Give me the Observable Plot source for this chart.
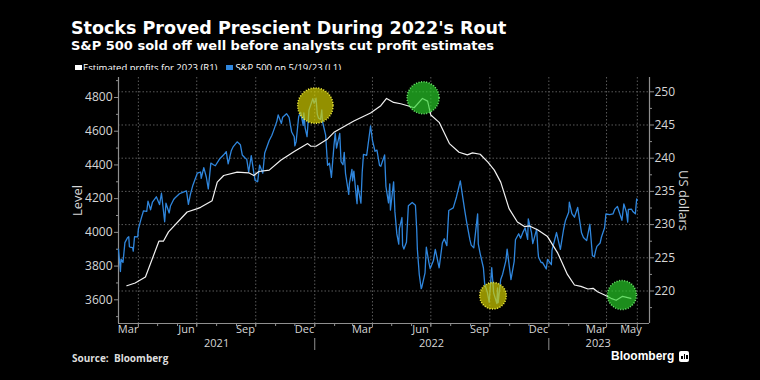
<!DOCTYPE html>
<html>
<head>
<meta charset="utf-8">
<script src="https://cdn.jsdelivr.net/npm/d3@7"></script>
<script src="https://cdn.jsdelivr.net/npm/@observablehq/plot@0.6"></script>
<style>
html,body{margin:0;padding:0;background:#000;}
#root{position:relative;width:760px;height:380px;background:#000;overflow:hidden;color:#fff;}
.title{position:absolute;left:71px;top:20px;font-family:"DejaVu Sans";font-weight:bold;font-size:17.5px;line-height:1;color:#fff;white-space:nowrap;}
.subtitle{position:absolute;left:71px;top:39px;font-family:"DejaVu Sans";font-weight:bold;font-size:13px;line-height:1;color:#fff;white-space:nowrap;}
.legend{position:absolute;left:75px;top:63px;height:10px;font-family:"Open Sans";font-size:9.5px;line-height:1;color:#fff;white-space:nowrap;display:flex;align-items:center;}
.sw{display:inline-block;width:7px;height:7px;margin-right:1px;}
#chart{position:absolute;left:0;top:70px;}
.source{position:absolute;left:72px;top:353px;font-family:"Open Sans";font-weight:bold;font-size:10px;line-height:1;color:#ddd;white-space:nowrap;}
.logo{position:absolute;left:611px;top:350px;font-family:"Liberation Sans";font-weight:bold;font-size:12px;line-height:1;color:#fff;display:flex;align-items:center;white-space:nowrap;}
.icon{display:inline-block;width:10px;height:11px;background:#fff;border-radius:2px;margin-left:5px;position:relative;}
.icon i{position:absolute;bottom:3px;width:1.5px;background:#000;}
</style>
</head>
<body>
<div id="root">
  <div class="title">Stocks Proved Prescient During 2022's Rout</div>
  <div class="subtitle">S&amp;P 500 sold off well before analysts cut profit estimates</div>
  <div class="legend"><span class="sw" style="background:#fff"></span>Estimated profits for 2023 (R1)<span class="sw" style="background:#2f86dd;margin-left:9px;margin-right:2px"></span>S&amp;P 500 on 5/19/23 (L1)</div>
  <div id="chart"></div>
  <div class="source">Source:&nbsp; Bloomberg</div>
  <div class="logo">Bloomberg<span class="icon"><i style="left:2px;height:3px"></i><i style="left:4.5px;height:5px"></i><i style="left:7px;height:4px"></i></span></div>
</div>
<script>
// ---------- DATA ----------
const spxDates = [
"2021-03-01","2021-03-04","2021-03-05","2021-03-08","2021-03-11","2021-03-15","2021-03-17","2021-03-18","2021-03-19","2021-03-23","2021-03-24","2021-03-26","2021-03-31",
"2021-04-01","2021-04-05","2021-04-09","2021-04-14","2021-04-16","2021-04-20","2021-04-23","2021-04-29",
"2021-05-04","2021-05-07","2021-05-12","2021-05-14","2021-05-19","2021-05-21","2021-05-26","2021-05-28",
"2021-06-04","2021-06-10","2021-06-15","2021-06-18","2021-06-21","2021-06-25",
"2021-07-02","2021-07-07","2021-07-08","2021-07-12","2021-07-16","2021-07-19","2021-07-23","2021-07-27","2021-07-30",
"2021-08-06","2021-08-12","2021-08-16","2021-08-19","2021-08-24","2021-08-27",
"2021-09-02","2021-09-07","2021-09-10","2021-09-14","2021-09-17","2021-09-20","2021-09-24","2021-09-28","2021-09-30",
"2021-10-04","2021-10-07","2021-10-12","2021-10-15","2021-10-22","2021-10-26","2021-10-29",
"2021-11-03","2021-11-05","2021-11-10","2021-11-12","2021-11-18","2021-11-22","2021-11-26","2021-11-30",
"2021-12-01","2021-12-03","2021-12-07","2021-12-10","2021-12-14","2021-12-15","2021-12-17","2021-12-20","2021-12-23","2021-12-29","2021-12-31",
"2022-01-03","2022-01-05","2022-01-07","2022-01-10","2022-01-12","2022-01-13","2022-01-18","2022-01-21","2022-01-24","2022-01-27","2022-01-31",
"2022-02-02","2022-02-04","2022-02-09","2022-02-11","2022-02-14","2022-02-16","2022-02-18","2022-02-23","2022-02-24","2022-02-28",
"2022-03-01","2022-03-03","2022-03-07","2022-03-08","2022-03-09","2022-03-14","2022-03-16","2022-03-18","2022-03-23","2022-03-29",
"2022-04-01","2022-04-05","2022-04-08","2022-04-12","2022-04-14","2022-04-20","2022-04-22","2022-04-26","2022-04-28","2022-04-29",
"2022-05-04","2022-05-06","2022-05-09","2022-05-12","2022-05-13","2022-05-17","2022-05-18","2022-05-20","2022-05-24","2022-05-27",
"2022-06-02","2022-06-07","2022-06-09","2022-06-10","2022-06-13","2022-06-16","2022-06-17","2022-06-22","2022-06-24","2022-06-28","2022-06-30",
"2022-07-05","2022-07-08","2022-07-14","2022-07-19","2022-07-22","2022-07-26","2022-07-29",
"2022-08-05","2022-08-10","2022-08-16","2022-08-19","2022-08-23","2022-08-26","2022-08-31",
"2022-09-02","2022-09-06","2022-09-12","2022-09-13","2022-09-16","2022-09-21","2022-09-23","2022-09-27","2022-09-30",
"2022-10-04","2022-10-07","2022-10-12","2022-10-13","2022-10-14","2022-10-18","2022-10-21","2022-10-26","2022-10-28",
"2022-11-03","2022-11-08","2022-11-10","2022-11-15","2022-11-18","2022-11-22","2022-11-25","2022-11-29","2022-11-30",
"2022-12-05","2022-12-07","2022-12-13","2022-12-15","2022-12-16","2022-12-20","2022-12-22","2022-12-28","2022-12-30",
"2023-01-05","2023-01-06","2023-01-12","2023-01-13","2023-01-19","2023-01-24","2023-01-27",
"2023-02-01","2023-02-02","2023-02-06","2023-02-10","2023-02-15","2023-02-21","2023-02-24",
"2023-03-01","2023-03-06","2023-03-10","2023-03-13","2023-03-15","2023-03-17","2023-03-22","2023-03-24","2023-03-29","2023-03-31",
"2023-04-06","2023-04-11","2023-04-14","2023-04-18","2023-04-20","2023-04-25","2023-04-28",
"2023-05-02","2023-05-04","2023-05-05","2023-05-10","2023-05-12","2023-05-16","2023-05-17","2023-05-18","2023-05-19"
];
const spxValues = [
3901,3768,3841,3821,3939,3968,3974,3915,3913,3910,3889,3974,3973,
4019,4077,4128,4124,4185,4134,4180,4211,
4165,4232,4063,4173,4115,4156,4195,4204,
4229,4239,4246,4166,4224,4280,
4352,4358,4320,4384,4327,4258,4411,4401,4395,
4437,4460,4479,4406,4486,4509,
4537,4520,4459,4443,4433,4358,4455,4353,4308,
4300,4399,4351,4471,4545,4575,4605,
4660,4697,4646,4683,4704,4682,4595,4567,
4513,4538,4687,4712,4634,4709,4620,4568,4725,4793,4766,
4796,4700,4677,4670,4726,4659,4577,4398,4410,4326,4516,
4589,4500,4587,4419,4401,4475,4349,4225,4288,4374,
4306,4363,4201,4170,4278,4173,4357,4463,4457,4631,
4546,4481,4488,4397,4392,4459,4272,4175,4288,4132,
4300,4123,3991,3930,4024,4088,3923,3901,3941,4158,
4177,4161,4018,3901,3750,3666,3675,3760,3912,3821,3785,
3831,3899,3790,3937,3962,3921,4130,
4145,4210,4305,4228,4128,4058,3955,
3924,3908,4110,3932,3873,3790,3693,3647,3586,
3791,3640,3577,3670,3583,3720,3752,3831,3901,
3720,3828,3956,3992,3965,4003,4026,3958,4080,
3998,3933,4019,3895,3852,3821,3822,3783,3840,
3808,3895,3983,3999,3899,4017,4071,
4119,4179,4111,4090,4148,3997,3970,
3951,4048,3862,3855,3892,3917,3937,3971,4027,4109,
4105,4109,4138,4154,4130,4071,4169,
4119,4061,4136,4137,4124,4110,4158,4198,4191
];
const epsDates = [
"2021-03-14","2021-03-27","2021-04-12","2021-05-03","2021-05-10","2021-05-18","2021-06-16","2021-07-02","2021-07-07","2021-07-25",
"2021-08-02","2021-08-12","2021-09-02","2021-09-20","2021-09-28","2021-10-06","2021-10-22","2021-11-09","2021-11-30","2021-12-21",
"2021-12-26","2022-01-03","2022-01-21","2022-01-31","2022-03-03","2022-03-29","2022-04-14","2022-04-23","2022-05-04","2022-05-15",
"2022-05-26","2022-06-05","2022-06-18","2022-06-26","2022-07-01","2022-07-14","2022-07-30","2022-08-14","2022-08-27","2022-09-04",
"2022-09-16","2022-09-28","2022-10-08","2022-10-18","2022-10-31","2022-11-13","2022-11-24","2022-12-02","2022-12-15","2022-12-30",
"2023-01-15","2023-01-30","2023-02-10","2023-02-20","2023-03-03","2023-03-11","2023-03-18","2023-03-29","2023-04-08","2023-04-16",
"2023-04-26","2023-05-09"
];
const epsValues = [
220.8,221.2,222.1,227.5,227.5,228.9,231.9,232.4,232.6,233.6,
236.4,237.4,237.9,237.8,237.4,238.0,238.2,239.7,241.0,242.2,
241.8,241.8,242.9,243.9,245.6,246.8,247.9,249.0,248.4,248.2,
247.9,247.6,249.0,248.6,246.5,245.4,242.2,240.9,240.5,240.8,
240.6,239.4,238.2,236.4,232.4,230.4,229.7,229.8,229.2,228.2,
225.7,222.5,220.9,220.7,220.3,220.4,219.9,219.4,218.9,218.6,
219.2,218.9
];
// highlighted spots (L = S&P 500 axis, R = profits axis)
const hlDates  = ["2022-01-02","2022-06-19","2022-10-06","2023-04-25"];
const hlValues = [4752, 249.1, 3624, 219.4];
const hlAxis   = ["L","R","L","R"];

const leftMajor  = [3600,3800,4000,4200,4400,4600,4800];
const leftMinor  = [3500,3700,3900,4100,4300,4500,4700,4900];
const rightMajor = [220,225,230,235,240,245,250];
const rightMinor = [217.5,222.5,227.5,232.5,237.5,242.5,247.5];
const monthLabelDates = ["2021-03-16","2021-06-15","2021-09-15","2021-12-16","2022-03-16","2022-06-15","2022-09-15","2022-12-16","2023-03-16","2023-05-09"];
const gridDates = ["2021-04-01","2021-07-01","2021-10-01","2022-01-01","2022-04-01","2022-07-01","2022-10-01","2023-01-01","2023-04-01","2023-05-19"];
const yearLabelDates = ["2021-08-01","2022-07-02","2023-03-19"];
const yearBreakDates = ["2022-01-01","2023-01-01"];
const xDomain = ["2021-03-01","2023-06-07"];
const yDomain = [3459.4, 4918.6];

// ---------- SCALE LINK (right axis -> left axis units) ----------
const R2L = v => 4833.8 - (250 - v) * 39.39;
const L2R = l => 250 - (4833.8 - l) / 39.39;

const P = d3.utcParse("%Y-%m-%d");
const spx = spxDates.map((d, i) => ({date: P(d), value: spxValues[i]}));
const eps = epsDates.map((d, i) => ({date: P(d), value: R2L(epsValues[i])}));
const hl = hlDates.map((d, i) => ({date: P(d), axis: hlAxis[i], value: hlAxis[i] === "L" ? hlValues[i] : R2L(hlValues[i])}));
const hlRadius = [17.7, 16, 13.3, 14.5];
hl.forEach((d, i) => d.r = hlRadius[i]);

const monthStarts = d3.utcMonth.range(P("2021-04-01"), P("2023-06-01"));

const axisGray = "#8f8f8f";
const textGray = "#d6d6d6";
const gridStyle = {stroke: "#5a5a5a", strokeOpacity: 1, strokeDasharray: "1.5,2", strokeWidth: 1};

const chart = Plot.plot({
  width: 760,
  height: 285,
  marginLeft: 118,
  marginRight: 111,
  marginTop: 7,
  marginBottom: 32,
  style: {background: "#000", color: textGray, fontFamily: "Open Sans", fontSize: "12px"},
  x: {type: "utc", domain: xDomain.map(P), label: null},
  y: {domain: yDomain, label: null},
  r: {type: "identity"},
  marks: [
    Plot.gridY(rightMajor.map(R2L), gridStyle),
    Plot.gridX(gridDates.map(P), gridStyle),
    Plot.ruleX([P(xDomain[0]), P(xDomain[1])], {stroke: axisGray, strokeWidth: 1.2}),
    Plot.ruleY([yDomain[0]], {stroke: axisGray, strokeWidth: 1.2}),
    // left axis
    Plot.axisY(leftMajor, {anchor: "left", tickSize: 4, tickPadding: 2, tickFormat: d => String(d), stroke: axisGray, fill: textGray, fontSize: 12}),
    Plot.axisY(leftMinor, {anchor: "left", tickSize: 2, tickFormat: () => "", stroke: axisGray}),
    // right axis
    Plot.axisY(rightMajor.map(R2L), {anchor: "right", tickSize: 4, tickPadding: 1, tickFormat: d => String(Math.round(L2R(d))), stroke: axisGray, fill: textGray, fontSize: 12}),
    Plot.axisY(rightMinor.map(R2L), {anchor: "right", tickSize: 2, tickFormat: () => "", stroke: axisGray}),
    // x axis
    Plot.axisX(monthStarts, {tickSize: 3, tickFormat: () => "", stroke: axisGray}),
    Plot.axisX(gridDates.map(P), {tickSize: 4, tickFormat: () => "", stroke: axisGray}),
    Plot.axisX(monthLabelDates.map(P), {tickSize: 0, tickPadding: 2, tickFormat: d3.utcFormat("%b"), fill: textGray, fontSize: 11}),
    Plot.axisX(yearLabelDates.map(P), {tickSize: 0, tickPadding: 16, tickFormat: d3.utcFormat("%Y"), fill: textGray, fontSize: 11}),
    Plot.axisX(yearBreakDates.map(P), {tickSize: 12, dy: 15, tickFormat: () => "", stroke: axisGray}),
    // axis titles
    Plot.text(["Level"], {text: d => d, frameAnchor: "left", textAnchor: "middle", lineAnchor: "middle", rotate: -90, dx: -41, fontSize: 13, fill: textGray}),
    Plot.text(["US dollars"], {text: d => d, frameAnchor: "right", textAnchor: "middle", lineAnchor: "middle", rotate: 90, dx: 34, fontSize: 13, fill: textGray}),
    // series
    Plot.lineY(spx, {x: "date", y: "value", stroke: "#2f86dd", strokeWidth: 1.3}),
    Plot.lineY(eps, {x: "date", y: "value", stroke: "#f2f2f2", strokeWidth: 1.2}),
    // highlight circles
    Plot.dot(hl, {filter: d => d.axis === "L", x: "date", y: "value", r: "r", fill: "#d8d400", fillOpacity: 0.68, stroke: "#f5f040", strokeWidth: 1.5, strokeDasharray: "1,1.6"}),
    Plot.dot(hl, {filter: d => d.axis === "R", x: "date", y: "value", r: "r", fill: "#2ad02a", fillOpacity: 0.68, stroke: "#6ee86e", strokeWidth: 1.5, strokeDasharray: "1,1.6"})
  ]
});
document.getElementById("chart").appendChild(chart);
</script>
</body>
</html>
